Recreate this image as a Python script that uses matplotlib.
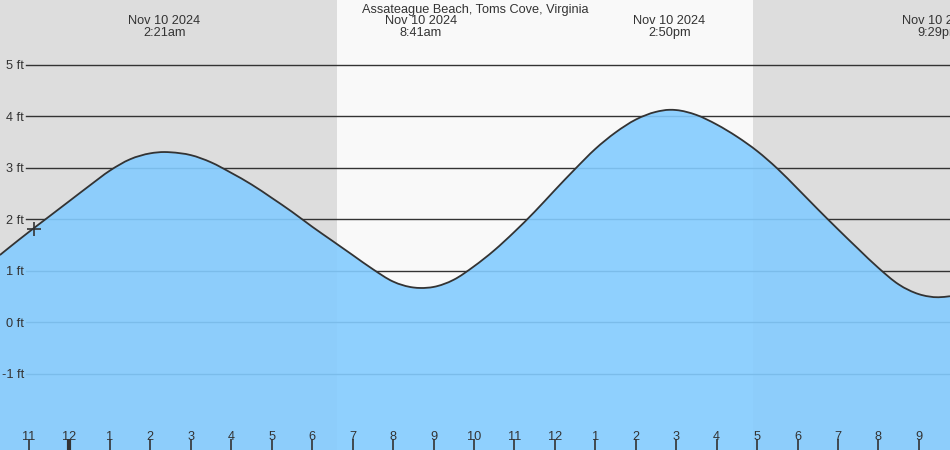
import matplotlib
matplotlib.use("Agg")
import matplotlib.pyplot as plt
import matplotlib.transforms as mtransforms
from matplotlib.path import Path
from matplotlib.patches import PathPatch
import numpy as np

plt.rcParams['font.family'] = ['Liberation Sans', 'DejaVu Sans']

# ---- data (hours relative to midnight Nov 10 2024, heights in ft) ----
times = [-1.72, -1.5, -1.0, -0.5, 0.0, 0.5, 1.0, 1.5, 2.0, 2.35, 2.5, 3.0, 3.5,
         4.0, 4.5, 5.0, 5.5, 6.0, 6.5, 7.0, 7.5, 8.0, 8.5, 8.683, 9.0, 9.5,
         10.0, 10.5, 11.0, 11.5, 12.0, 12.5, 13.0, 13.5, 14.0, 14.5, 14.833,
         15.0, 15.5, 16.0, 16.5, 17.0, 17.5, 18.0, 18.5, 19.0, 19.5, 20.0,
         20.5, 21.0, 21.483, 21.77]
heights = [1.31, 1.45, 1.76, 2.06, 2.36, 2.66, 2.95, 3.17, 3.285, 3.31, 3.305, 3.25, 3.11,
           2.905, 2.68, 2.42, 2.15, 1.86, 1.585, 1.31, 1.035, 0.795, 0.68, 0.67, 0.69, 0.83,
           1.09, 1.40, 1.76, 2.15, 2.57, 2.98, 3.37, 3.69, 3.94, 4.09, 4.13,
           4.125, 4.03, 3.845, 3.61, 3.33, 2.99, 2.60, 2.20, 1.81, 1.43, 1.06,
           0.74, 0.55, 0.49, 0.51]

extreme_times = [2.35, 8.683, 14.833, 21.483]
extreme_labels = ["2:21am", "8:41am", "2:50pm", "9:29pm"]
extreme_date = "Nov 10 2024"

now_time = -0.88
now_height = 1.82

sunrise = 6.61
sunset = 16.90

grid_levels = [5, 4, 3, 2, 1, 0, -1]
hour_ticks = list(range(-1, 22))

title = "Assateague Beach, Toms Cove, Virginia"

# ---- figure ----
W, H = 950, 450
fig = plt.figure(figsize=(9.5, 4.5), dpi=100)
ax = fig.add_axes([0, 0, 1, 1])
x0, x1 = -1.718, 21.77
y0, y1 = -2.476, 6.262
ax.set_xlim(x0, x1)
ax.set_ylim(y0, y1)
for s in ax.spines.values():
    s.set_visible(False)
px_ft = (y1 - y0) / H

night = '#dddddd'
day = '#f9f9f9'
ax.set_facecolor(day)
ax.axvspan(x0, sunrise, color=night, lw=0, zorder=0)
ax.axvspan(sunset, x1, color=night, lw=0, zorder=0)

text_color = '#333333'
fs = 9.2
ylab_tr = mtransforms.blended_transform_factory(ax.transAxes, ax.transData)
for g in grid_levels:
    ax.axhline(g, xmin=26 / W, xmax=1, color='#333333', lw=1.0, zorder=1)
    ax.text(24 / W, g - 4.5 * px_ft, f"{g} ft", transform=ylab_tr,
            ha='right', va='baseline', fontsize=fs, color=text_color, zorder=5)

# smooth curve through the read points (cubic Hermite -> Bezier)
t = np.asarray(times, float)
h = np.asarray(heights, float)
m = np.gradient(h, t)
verts = [(t[0], h[0])]
codes = [Path.MOVETO]
for i in range(len(t) - 1):
    dt = t[i + 1] - t[i]
    verts += [(t[i] + dt / 3, h[i] + m[i] * dt / 3),
              (t[i + 1] - dt / 3, h[i + 1] - m[i + 1] * dt / 3),
              (t[i + 1], h[i + 1])]
    codes += [Path.CURVE4] * 3
line_path = Path(verts, codes)
fill_path = Path(verts + [(t[-1], y0), (t[0], y0), (t[0], h[0])],
                 codes + [Path.LINETO, Path.LINETO, Path.CLOSEPOLY])

ax.add_patch(PathPatch(fill_path, facecolor='#84ccff', alpha=0.9, lw=0, zorder=2))
ax.add_patch(PathPatch(line_path, facecolor='none', edgecolor='#333333', lw=1.3, zorder=3))
ax.plot([now_time], [now_height], marker='+', color='#333333', ms=10, mew=1.2, zorder=4)

# extremes labels
top = mtransforms.blended_transform_factory(ax.transData, fig.transFigure)
for te, lab in zip(extreme_times, extreme_labels):
    ax.text(te, 1 - 24 / H, extreme_date, transform=top, ha='center', va='baseline',
            fontsize=fs, color=text_color, zorder=6)
    ax.text(te, 1 - 36 / H, lab, transform=top, ha='center', va='baseline',
            fontsize=fs, color=text_color, zorder=6)

fig.text(0.5, 1 - 12.5 / H, title, ha='center', va='baseline', fontsize=fs, color=text_color)

# hour ticks
ax.set_xticks(hour_ticks)
ax.set_xticklabels([])
ax.set_yticks([])
ax.xaxis.set_zorder(6)
ax.tick_params(axis='x', direction='in', length=8, width=1.2, color='#333333')
for tk, hr in zip(ax.xaxis.get_major_ticks(), hour_ticks):
    tk.tick2line.set_visible(False)
    if hr == 0:
        tk.tick1line.set_markeredgewidth(3)
bot = mtransforms.blended_transform_factory(ax.transData, ax.transAxes)
for hr in hour_ticks:
    hh = hr % 12
    lab = "12" if hh == 0 else str(hh)
    ax.text(hr, 10 / H, lab, transform=bot, ha='center', va='baseline',
            fontsize=fs, color=text_color, zorder=6)

fig.savefig("out.png", dpi=100)
